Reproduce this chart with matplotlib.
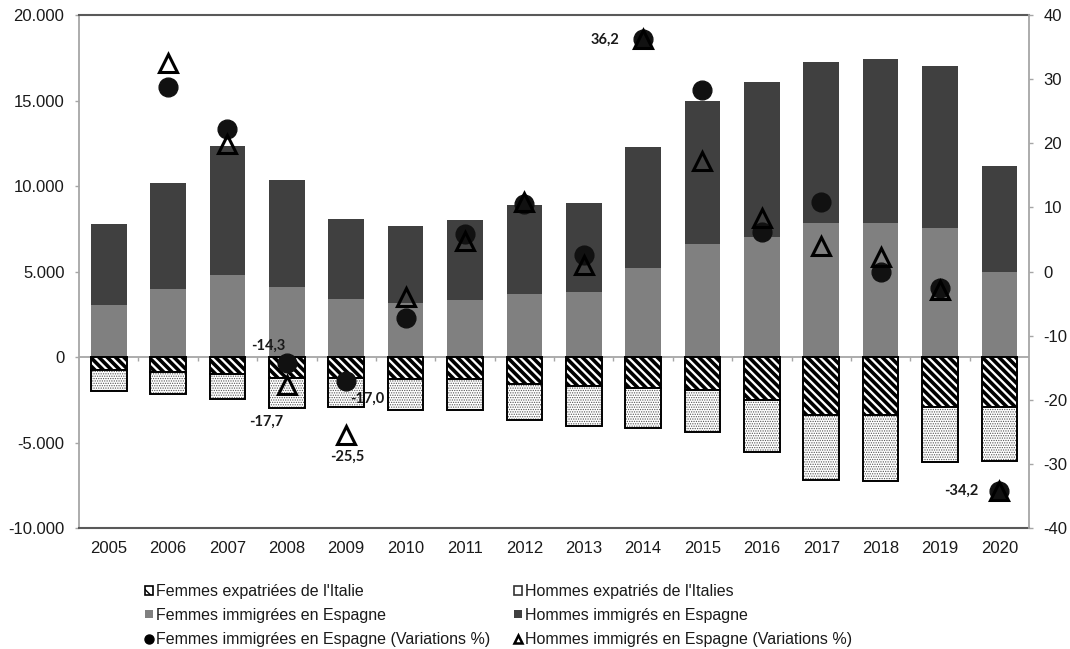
import numpy as np
import matplotlib
matplotlib.use("Agg")
import matplotlib.pyplot as plt
from matplotlib.patches import Patch
from matplotlib.lines import Line2D
from matplotlib.ticker import FuncFormatter, MultipleLocator

# ---- data ---------------------------------------------------------------
years = [str(y) for y in range(2005, 2021)]

femmes_immigrees = [3050, 3960, 4800, 4130, 3390, 3140, 3330, 3720,
                    3820, 5190, 6630, 7040, 7820, 7820, 7560, 4990]
hommes_immigres = [4730, 6230, 7540, 6200, 4680, 4500, 4680, 5150,
                   5220, 7090, 8340, 9060, 9410, 9630, 9460, 6200]

femmes_expatriees = [-760, -860, -1010, -1190, -1210, -1290, -1290, -1580,
                     -1700, -1790, -1890, -2480, -3350, -3350, -2890, -2890]
hommes_expatries = [-1230, -1320, -1440, -1750, -1700, -1810, -1770, -2100,
                    -2300, -2320, -2480, -3060, -3800, -3900, -3240, -3160]

var_femmes = [np.nan, 28.8, 22.3, -14.3, -17.0, -7.3, 5.8, 10.5,
              2.6, 36.2, 28.3, 6.2, 10.8, 0.0, -2.5, -34.2]
var_hommes = [np.nan, 32.5, 19.9, -17.7, -25.5, -3.9, 4.8, 10.8,
              1.0, 36.2, 17.3, 8.4, 4.0, 2.3, -2.9, -34.2]

# labelled points: year index -> offset in pixels (dx, dy downwards)
labels_femmes = {3: (-18, -18), 4: (21, 18)}
labels_hommes = {3: (-21, 37), 4: (1, 22), 9: (-38, 0), 15: (-38, 0)}

# ---- style --------------------------------------------------------------
plt.rcParams['font.family'] = ['Liberation Sans', 'DejaVu Sans']
C_LIGHT = '#808080'
C_DARK = '#404040'
C_AXIS = '#a6a6a6'
C_FRAME = '#595959'
TXT = '#1a1a1a'
PX = 0.72  # points per pixel at 100 dpi

fig = plt.figure(figsize=(10.70, 6.49), dpi=100)
ax = fig.add_axes([79 / 1070, 1 - 528.3 / 649, 950 / 1070, 513.3 / 649])
x = np.arange(len(years))
w = 0.6


def set_hatch_lw(patches, lw):
    for p in patches:
        if hasattr(p, 'set_hatch_linewidth'):
            p.set_hatch_linewidth(lw)


# positive stacks: immigration in Spain
ax.bar(x, femmes_immigrees, w, color=C_LIGHT, linewidth=0, zorder=2)
ax.bar(x, hommes_immigres, w, bottom=femmes_immigrees, color=C_DARK,
       linewidth=0, zorder=2)

# negative stacks: expatriation from Italy
with plt.rc_context({'hatch.linewidth': 2.6}):
    b1 = ax.bar(x, femmes_expatriees, w, facecolor='white', edgecolor='black',
                hatch='\\\\\\\\', linewidth=1.4, zorder=2)
set_hatch_lw(b1, 2.6)
with plt.rc_context({'hatch.linewidth': 0.6}):
    b2 = ax.bar(x, hommes_expatries, w, bottom=femmes_expatriees,
                facecolor='white', edgecolor='#555555', hatch='.......',
                linewidth=0, zorder=2)
set_hatch_lw(b2, 0.6)
ax.bar(x, hommes_expatries, w, bottom=femmes_expatriees, fill=False,
       edgecolor='black', linewidth=1.4, zorder=2.1)

# category axis at zero with small ticks between categories
ax.axhline(0, color=C_AXIS, linewidth=1.3, zorder=1.5)
ax.plot(x[:-1] + 0.5, np.zeros(len(x) - 1), linestyle='none', marker=3,
        markersize=3, markeredgewidth=1.0, color=C_AXIS, zorder=1.5)

ax.set_xlim(-0.5, len(years) - 0.5)
ax.set_ylim(-10000, 20000)
ax.yaxis.set_major_locator(MultipleLocator(5000))
ax.yaxis.set_major_formatter(
    FuncFormatter(lambda v, _: f"{v:,.0f}".replace(',', '.')))
ax.set_xticks(x)
ax.set_xticklabels(years)
ax.tick_params(axis='x', length=0, pad=9.5, labelsize=12, labelcolor=TXT)
ax.tick_params(axis='y', direction='out', length=3, width=1, color=C_AXIS,
               pad=7.5, labelsize=12, labelcolor=TXT)

for s in ('top', 'bottom'):
    ax.spines[s].set_color(C_FRAME)
    ax.spines[s].set_linewidth(1.5)
ax.spines['left'].set_color(C_AXIS)
ax.spines['left'].set_linewidth(1.3)
ax.spines['right'].set_visible(False)

# percentage variations on the secondary axis
ax2 = ax.twinx()
ax2.set_ylim(-40, 40)
ax2.yaxis.set_major_locator(MultipleLocator(10))
ax2.yaxis.set_major_formatter(FuncFormatter(lambda v, _: f"{v:.0f}"))
ax2.tick_params(axis='y', direction='out', length=3, width=1, color=C_AXIS,
                pad=7.5, labelsize=12, labelcolor=TXT)
for s in ('top', 'bottom', 'left'):
    ax2.spines[s].set_visible(False)
ax2.spines['right'].set_color(C_AXIS)
ax2.spines['right'].set_linewidth(1.3)

ax2.plot(x, var_femmes, linestyle='none', marker='o', markersize=13.5,
         markerfacecolor='#111111', markeredgecolor='#111111', zorder=3)
ax2.plot(x, var_hommes, linestyle='none', marker='^', markersize=13.5,
         markerfacecolor='none', markeredgecolor='black',
         markeredgewidth=2.2, zorder=4)


def fmt(v):
    return f"{v:.1f}".replace('.', ',')


lab_kw = dict(textcoords='offset points', ha='center', va='center',
              fontsize=10.5, fontweight='bold', color='#1a1a1a',
              family=['Lato', 'DejaVu Sans'], zorder=5)
for i, (dx, dy) in labels_femmes.items():
    ax2.annotate(fmt(var_femmes[i]), xy=(x[i], var_femmes[i]),
                 xytext=(dx * PX, -dy * PX), **lab_kw)
for i, (dx, dy) in labels_hommes.items():
    ax2.annotate(fmt(var_hommes[i]), xy=(x[i], var_hommes[i]),
                 xytext=(dx * PX, -dy * PX), **lab_kw)

# legend
h_fexp = Patch(facecolor='white', edgecolor='black', hatch='\\\\\\',
               linewidth=1.2)
h_hexp = Patch(facecolor='white', edgecolor='#333333', linewidth=1.2)
h_fimm = Patch(facecolor=C_LIGHT, linewidth=0)
h_himm = Patch(facecolor=C_DARK, linewidth=0)
h_fvar = Line2D([], [], linestyle='none', marker='o', markersize=6.5,
                markerfacecolor='black', markeredgecolor='black')
h_hvar = Line2D([], [], linestyle='none', marker='^', markersize=6,
                markerfacecolor='white', markeredgecolor='black',
                markeredgewidth=1.8)
handles = [h_fexp, h_fimm, h_fvar, h_hexp, h_himm, h_hvar]
names = ["Femmes expatriées de l'Italie",
         "Femmes immigrées en Espagne",
         "Femmes immigrées en Espagne (Variations %)",
         "Hommes expatriés de l'Italies",
         "Hommes immigrés en Espagne",
         "Hommes immigrés en Espagne (Variations %)"]
fig.legend(handles, names, ncol=2, loc='upper left',
           bbox_to_anchor=(145 / 1070, 1 - 584 / 649), frameon=False,
           fontsize=11.5, handlelength=0.5, handleheight=0.45,
           handletextpad=0.2, columnspacing=1.45, labelspacing=0.55,
           borderpad=0, borderaxespad=0, labelcolor=TXT)

fig.savefig('out.png', dpi=100)
